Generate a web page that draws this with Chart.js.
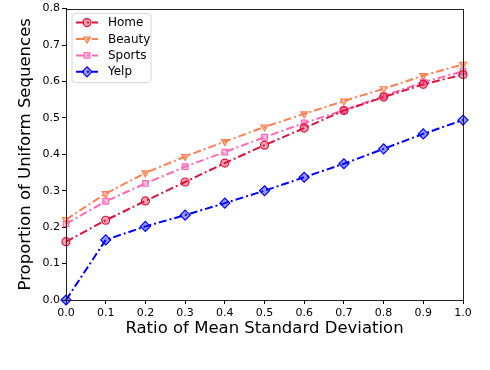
<!DOCTYPE html>
<html>
<head>
<meta charset="utf-8">
<script src="https://cdn.jsdelivr.net/npm/chart.js@4"></script>
<style>
  html, body { margin: 0; padding: 0; background: #fff; }
  #wrap { width: 490px; height: 370px; position: relative; }
</style>
</head>
<body>
<div id="wrap"><canvas id="c" width="490" height="370"></canvas></div>
<script>
// values
const ratios = [0.0, 0.1, 0.2, 0.3, 0.4, 0.5, 0.6, 0.7, 0.8, 0.9, 1.0];
const home   = [0.160, 0.219, 0.272, 0.324, 0.376, 0.425, 0.472, 0.520, 0.557, 0.592, 0.619];
const beauty = [0.221, 0.292, 0.349, 0.394, 0.435, 0.475, 0.511, 0.546, 0.580, 0.616, 0.647];
const sports = [0.209, 0.271, 0.320, 0.366, 0.406, 0.447, 0.486, 0.521, 0.560, 0.598, 0.628];
const yelp   = [0.000, 0.165, 0.202, 0.233, 0.266, 0.300, 0.337, 0.374, 0.415, 0.456, 0.494];
const yTicks = [0, 0.1, 0.2, 0.3, 0.4, 0.5, 0.6, 0.7, 0.8];

const FONT = "'DejaVu Sans', sans-serif";
const DASH = [8, 3, 2, 3];

function series(label, values, color, style, rotation) {
  return {
    label,
    data: values.map((v, i) => ({ x: ratios[i], y: v })),
    borderColor: color,
    backgroundColor: color,
    borderWidth: 2,
    borderDash: DASH,
    pointStyle: style,
    rotation: rotation || 0,
    pointRadius: style === "rectRot" ? 5 : 4,
    pointBorderWidth: 1.2,
    pointBorderColor: color,
    pointBackgroundColor: color + "66",
    tension: 0,
    clip: false,
  };
}

// matplotlib-ish legend box inside the plot, upper left
const innerLegend = {
  id: "innerLegend",
  afterDraw(chart) {
    const ctx = chart.ctx;
    const a = chart.chartArea;
    const x0 = a.left + 6, y0 = a.top + 5, w = 79, h = 69;
    ctx.save();
    ctx.beginPath();
    ctx.roundRect(x0, y0, w, h, 3);
    ctx.fillStyle = "rgba(255,255,255,0.85)";
    ctx.fill();
    ctx.strokeStyle = "#d6d6d6";
    ctx.lineWidth = 1;
    ctx.stroke();
    chart.data.datasets.forEach((ds, i) => {
      const yy = y0 + 9 + i * 16.4;
      ctx.strokeStyle = ds.borderColor;
      ctx.lineWidth = 2;
      ctx.setLineDash(DASH);
      ctx.beginPath();
      ctx.moveTo(x0 + 4, yy);
      ctx.lineTo(x0 + 26, yy);
      ctx.stroke();
      ctx.setLineDash([]);
      ctx.fillStyle = ds.pointBackgroundColor;
      ctx.strokeStyle = ds.pointBorderColor;
      ctx.lineWidth = 1.2;
      Chart.helpers.drawPoint(ctx, {
        pointStyle: ds.pointStyle, rotation: ds.rotation,
        radius: ds.pointRadius, borderWidth: 1.2
      }, x0 + 15, yy);
      ctx.fillStyle = "#000";
      ctx.font = "12px " + FONT;
      ctx.textBaseline = "middle";
      ctx.fillText(ds.label, x0 + 36, yy + 0.5);
    });
    // axes frame
    ctx.strokeStyle = "#222";
    ctx.lineWidth = 1;
    ctx.strokeRect(Math.round(a.left) + 0.5, Math.round(a.top) + 0.5,
      Math.round(a.right - a.left), Math.round(a.bottom - a.top));
    ctx.restore();
  }
};

new Chart(document.getElementById("c"), {
  type: "line",
  data: {
    datasets: [
      series("Home", home, "#dc143c", "circle"),
      series("Beauty", beauty, "#ff7f50", "triangle", 180),
      series("Sports", sports, "#ff69b4", "rect"),
      series("Yelp", yelp, "#0000ff", "rectRot"),
    ]
  },
  options: {
    responsive: false,
    animation: false,
    devicePixelRatio: 1,
    layout: { padding: { left: 16, right: 27, top: 5, bottom: 31 } },
    plugins: { legend: { display: false }, tooltip: { enabled: false } },
    scales: {
      x: {
        type: "linear",
        min: 0, max: 1,
        afterBuildTicks(s) { s.ticks = ratios.map(v => ({ value: v })); },
        afterFit(s) { s.height = 39; },
        ticks: {
          color: "#000", font: { family: FONT, size: 11 }, padding: 3,
          maxRotation: 0, autoSkip: false,
          callback: v => v.toFixed(1)
        },
        grid: { drawOnChartArea: false, tickLength: 4, color: "#000" },
        border: { color: "#000" },
        title: {
          display: true, text: "Ratio of Mean Standard Deviation",
          color: "#000", font: { family: FONT, size: 16.5 }, padding: { top: 0, bottom: 0 }
        }
      },
      y: {
        min: 0, max: 0.8,
        afterBuildTicks(s) { s.ticks = yTicks.map(v => ({ value: v })); },
        afterFit(s) { s.width = 50; },
        ticks: {
          color: "#000", font: { family: FONT, size: 11 }, padding: 2,
          callback: v => v.toFixed(1)
        },
        grid: { drawOnChartArea: false, tickLength: 4, color: "#000" },
        border: { color: "#000" },
        title: {
          display: true, text: "Proportion of Uniform Sequences",
          color: "#000", font: { family: FONT, size: 16.5 }, padding: { top: 0, bottom: 0 }
        }
      }
    }
  },
  plugins: [innerLegend]
});
</script>
</body>
</html>
